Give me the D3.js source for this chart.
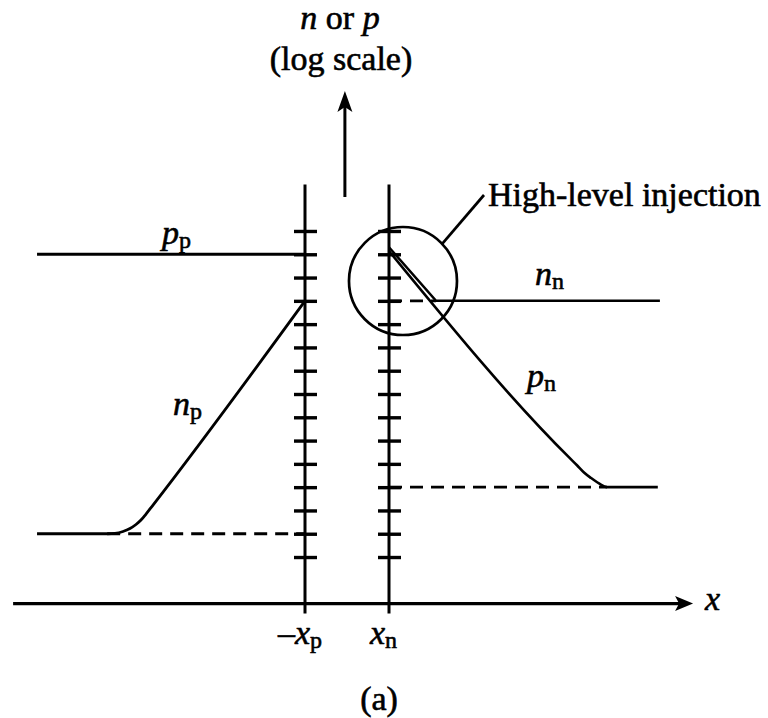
<!DOCTYPE html>
<html>
<head>
<meta charset="utf-8">
<script src="https://cdn.jsdelivr.net/npm/d3@7/dist/d3.min.js"></script>
<style>
  html, body { margin: 0; padding: 0; background: #fff; }
  svg { display: block; }
  text { font-family: "Liberation Serif", "Times New Roman", serif; fill: #000; stroke: #000; stroke-width: 0.6px; }
</style>
</head>
<body>
<script>
// Carrier concentrations (log scale) across a forward-biased p-n junction,
// positions in units where the depletion edges sit at -1 (−xp) and +1 (xn).

// Majority / minority equilibrium levels (cm^-3)
const ppLevel = 1e15;
const nnLevel = 1e13;
const np0Level = 1e3;
const pn0Level = 1e5;

// Tick levels on the two depletion-edge lines
const tickLevels = [1e2, 1e3, 1e4, 1e5, 1e6, 1e7, 1e8, 1e9, 1e10, 1e11, 1e12, 1e13, 1e14, 1e15, 1e16];

// Carrier profiles: [position, concentration]
const ppProfile = [[-7.38, ppLevel], [-1, ppLevel]];
const npProfile = [[-7.38, 1e3], [-5.71, 1e3], [-5.524, 1.04e3], [-5.333, 1.25e3],
                   [-5.167, 1.68e3], [-5.024, 2.49e3], [-4.905, 3.88e3],
                   [-4.786, 7.03e3], [-4.619, 1.71e4], [-1, 1e13]];
const nnProfile = [[1, 2.0e15], [2.12, 1e13], [7.45, 1e13]];
const pnProfile = [[1, 1.38e15], [5.30, 1.80e6], [5.476, 8.75e5], [5.643, 4.26e5],
                   [5.810, 2.47e5], [6.0, 1.44e5], [6.19, 1e5], [7.40, 1e5]];

// Equilibrium reference levels shown dashed: [from, to, level]
const dashedLevels = [[-5.71, -1, np0Level], [1, 6.19, pn0Level], [1, 2.12, nnLevel]];

// Depletion edges and axis extents
const edges = [-1, 1];
const xAxisRange = [-7.95, 8.24];
const yAxisTop = 1e18;
const highInjectionCenter = [1.333, 7.1e13];

const width = 768, height = 718;
const serif = '"Liberation Serif", "Times New Roman", serif';

const x = d3.scaleLinear().domain([-1, 1]).range([305, 389]);
const y = d3.scaleLog().domain([1, 1e18]).range([603.6, 184.4]);

const svg = d3.select("body").append("svg")
  .attr("width", width).attr("height", height)
  .attr("viewBox", `0 0 ${width} ${height}`);

svg.append("rect").attr("width", width).attr("height", height).attr("fill", "#fff");

const ink = "#000";

// Vertical depletion-edge lines, reaching a little below the x axis
edges.forEach(e => {
  svg.append("line")
    .attr("x1", x(e)).attr("x2", x(e))
    .attr("y1", y(yAxisTop)).attr("y2", y(1) + 10)
    .attr("stroke", ink).attr("stroke-width", 3);
});

// Decade ticks crossing each edge line
function drawTicks(pos) {
  const gL = svg.append("g").attr("transform", `translate(${x(pos)},0)`)
    .call(d3.axisLeft(y).tickValues(tickLevels).tickSize(11).tickFormat(""));
  const gR = svg.append("g").attr("transform", `translate(${x(pos)},0)`)
    .call(d3.axisRight(y).tickValues(tickLevels).tickSize(12).tickFormat(""));
  [gL, gR].forEach(g => {
    g.select(".domain").remove();
    g.selectAll(".tick line").attr("stroke", ink).attr("stroke-width", 3.4);
  });
}
edges.forEach(drawTicks);

// x axis with arrowhead
const axisY = y(1);
svg.append("line")
  .attr("x1", x(xAxisRange[0])).attr("x2", x(xAxisRange[1]) - 10)
  .attr("y1", axisY).attr("y2", axisY)
  .attr("stroke", ink).attr("stroke-width", 3.2);
const tipX = x(xAxisRange[1]);
svg.append("path")
  .attr("d", `M${tipX},${axisY} L${tipX - 18},${axisY - 7.5} L${tipX - 14},${axisY} L${tipX - 18},${axisY + 7.5} Z`)
  .attr("fill", ink);

// Vertical arrow indicating the concentration axis
const arrowX = x(-0.05);
svg.append("line")
  .attr("x1", arrowX).attr("x2", arrowX)
  .attr("y1", 197).attr("y2", 104)
  .attr("stroke", ink).attr("stroke-width", 3);
svg.append("path")
  .attr("d", `M${arrowX},91 L${arrowX - 7.5},112 L${arrowX},107 L${arrowX + 7.5},112 Z`)
  .attr("fill", ink);

// Dashed equilibrium levels
dashedLevels.forEach(([a, b, lvl]) => {
  svg.append("line")
    .attr("x1", x(a)).attr("x2", x(b))
    .attr("y1", y(lvl)).attr("y2", y(lvl))
    .attr("stroke", ink).attr("stroke-width", 2.8)
    .attr("stroke-dasharray", "13,8");
});

// Carrier profiles
const smooth = d3.line().x(d => x(d[0])).y(d => y(d[1])).curve(d3.curveMonotoneX);
const straight = d3.line().x(d => x(d[0])).y(d => y(d[1]));

svg.append("path").attr("d", straight(ppProfile))
  .attr("fill", "none").attr("stroke", ink).attr("stroke-width", 2.8);
svg.append("path").attr("d", smooth(npProfile))
  .attr("fill", "none").attr("stroke", ink).attr("stroke-width", 2.8);
svg.append("path").attr("d", straight(nnProfile))
  .attr("fill", "none").attr("stroke", ink).attr("stroke-width", 2.5);
svg.append("path").attr("d", smooth(pnProfile))
  .attr("fill", "none").attr("stroke", ink).attr("stroke-width", 2.6);

// High-level injection marker
const cx = x(highInjectionCenter[0]), cy = y(highInjectionCenter[1]), r = 54;
svg.append("circle").attr("cx", cx).attr("cy", cy).attr("r", r)
  .attr("fill", "none").attr("stroke", ink).attr("stroke-width", 2.7);
const ang = -43.5 * Math.PI / 180;
svg.append("line")
  .attr("x1", cx + r * Math.cos(ang)).attr("y1", cy + r * Math.sin(ang))
  .attr("x2", 484).attr("y2", 195)
  .attr("stroke", ink).attr("stroke-width", 2.7);

// Text
function label(px, py, main, sub, opts = {}) {
  const t = svg.append("text").attr("x", px).attr("y", py)
    .attr("font-family", serif).attr("font-size", opts.size || 34);
  if (opts.prefix) t.append("tspan").text(opts.prefix);
  t.append("tspan").attr("font-style", "italic").text(main);
  if (sub) t.append("tspan").attr("font-size", 24).attr("dy", 4).text(sub);
  return t;
}

svg.append("text").attr("x", 340).attr("y", 29).attr("text-anchor", "middle")
  .attr("font-family", serif).attr("font-size", 34)
  .call(t => {
    t.append("tspan").attr("font-style", "italic").text("n");
    t.append("tspan").text(" or ");
    t.append("tspan").attr("font-style", "italic").text("p");
  });
svg.append("text").attr("x", 341).attr("y", 70).attr("text-anchor", "middle")
  .attr("font-family", serif).attr("font-size", 34).text("(log scale)");

svg.append("text").attr("x", 488).attr("y", 206)
  .attr("font-family", serif).attr("font-size", 34)
  .text("High-level injection");

label(162, 244, "p", "p");
label(535, 285, "n", "n");
label(173, 415, "n", "p");
label(527, 387, "p", "n");
label(278, 644, "x", "p", { prefix: "\u2013" });
label(370, 644, "x", "n");
label(705, 610, "x", null);

svg.append("text").attr("x", 379).attr("y", 710).attr("text-anchor", "middle")
  .attr("font-family", serif).attr("font-size", 34).text("(a)");
</script>
</body>
</html>
